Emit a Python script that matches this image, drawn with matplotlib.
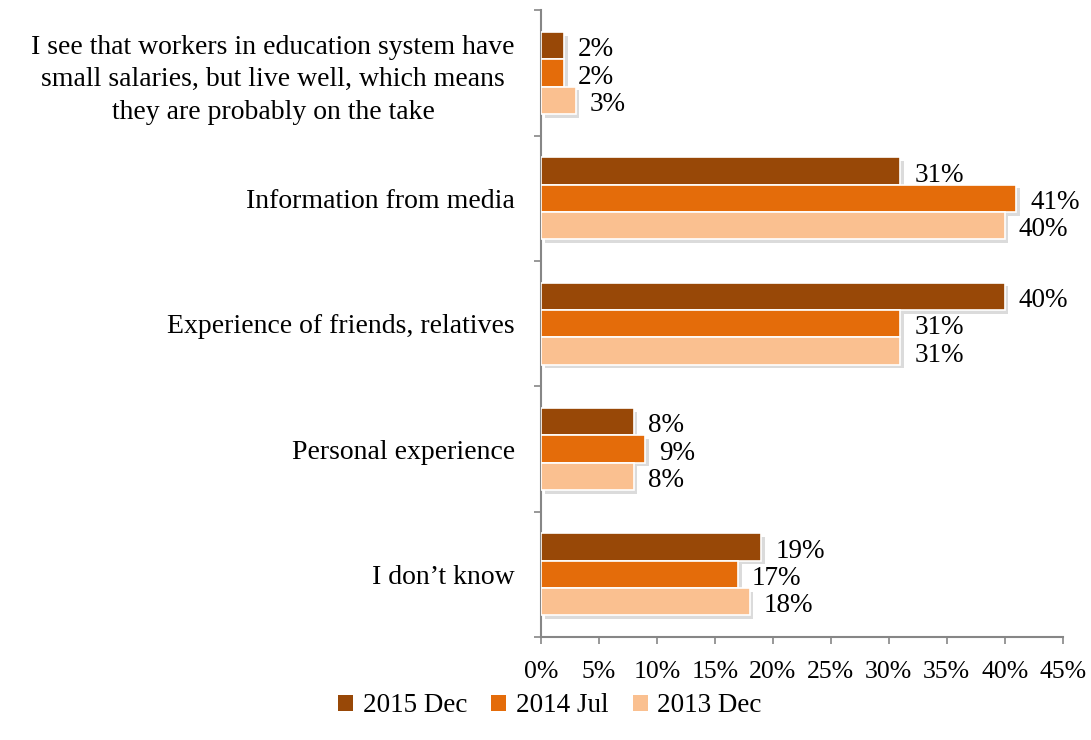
import matplotlib
matplotlib.use("Agg")
import matplotlib.pyplot as plt
import matplotlib.patheffects as pe
import numpy as np

plt.rcParams['font.family'] = ['Liberation Serif', 'DejaVu Serif']

categories = [
    "I see that workers in education system have\nsmall salaries, but live well, which means\nthey are probably on the take",
    "Information from media",
    "Experience of friends, relatives",
    "Personal experience",
    "I don\u2019t know",
]
series_names = ["2015 Dec", "2014 Jul", "2013 Dec"]
dec_2015 = [2, 31, 40, 8, 19]
jul_2014 = [2, 41, 31, 9, 17]
dec_2013 = [3, 40, 31, 8, 18]
colors = ["#984807", "#E46C0A", "#FAC090"]
x_ticks = [0, 5, 10, 15, 20, 25, 30, 35, 40, 45]

FS = 19.5

fig = plt.figure(figsize=(10.91, 7.4), dpi=100)
ax = fig.add_axes([0.496, 0.139, 0.478, 0.847])

n = len(categories)
centers = np.arange(n)[::-1].astype(float)  # first category at top
bar_h = 0.218
offsets = [-bar_h, 0.0, bar_h]  # top-to-bottom within a group
shadow = [pe.SimplePatchShadow(offset=(2.5, -2.5), shadow_rgbFace="#9a9a9a", alpha=0.35),
          pe.Normal()]

for vals, col, off, name in zip([dec_2015, jul_2014, dec_2013], colors, offsets, series_names):
    ys = centers - off
    bars = ax.barh(ys, vals, height=bar_h, color=col, edgecolor="white",
                   linewidth=1.2, label=name, zorder=3)
    for b in bars:
        b.set_path_effects(shadow)
    for y, v in zip(ys, vals):
        ax.annotate(f"{v}%", xy=(v, y), xytext=(10, -3), textcoords="offset points",
                    ha="left", va="center", fontsize=FS, color="black", zorder=4)

ax.set_xlim(0, 45)
ax.set_ylim(-0.5, n - 0.5)
ax.set_xticks(x_ticks)
ax.set_xticklabels([f"{t}%" for t in x_ticks], fontsize=18.5)
ax.set_yticks(centers)
ax.set_yticklabels(categories, fontsize=20, multialignment="center", linespacing=1.4)
ax.tick_params(axis="y", length=0, pad=19)
ax.set_yticks(np.arange(-0.5, n, 1.0), minor=True)
ax.tick_params(axis="y", which="minor", length=5, color="#868686", width=1.2)
ax.tick_params(axis="x", length=5, color="#868686", width=1.2, pad=12)

for s in ["top", "right"]:
    ax.spines[s].set_visible(False)
for s in ["left", "bottom"]:
    ax.spines[s].set_color("#868686")
    ax.spines[s].set_linewidth(1.5)

handles, labels = ax.get_legend_handles_labels()
leg = fig.legend(handles, labels, loc="center", bbox_to_anchor=(0.504, 0.046), ncol=3,
                 frameon=False, fontsize=FS, handlelength=0.55, handleheight=0.55,
                 handletextpad=0.35, columnspacing=0.9)
for h in leg.legend_handles:
    h.set_path_effects([])
    h.set_edgecolor("none")

fig.savefig("out.png", dpi=100)
